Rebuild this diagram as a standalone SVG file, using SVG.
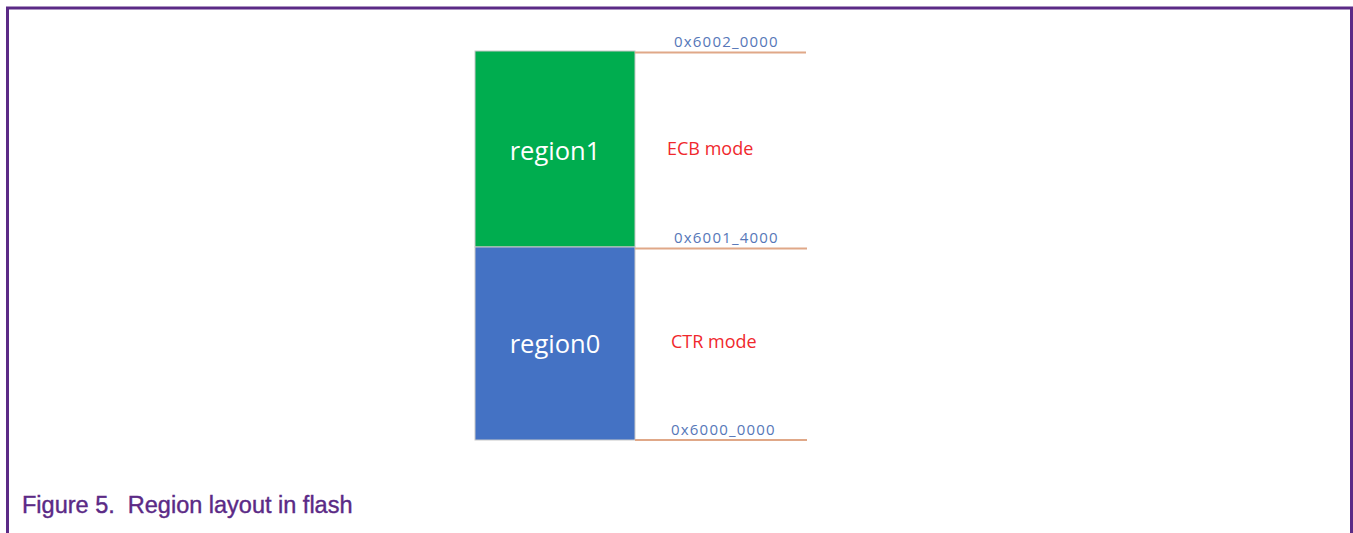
<svg xmlns="http://www.w3.org/2000/svg" width="1353" height="533" viewBox="0 0 1353 533">
<style>
.addr{font-family:"Open Sans","Noto Sans",sans-serif;font-size:15px;fill:#5677b8;letter-spacing:1.2px}
.mode{font-family:"Open Sans","Noto Sans",sans-serif;font-size:18px;fill:#f0282d}
.reg{font-family:"Open Sans","Noto Sans",sans-serif;font-size:25.5px;fill:#ffffff;text-anchor:middle}
.ln{stroke:#e0a888;stroke-width:2;fill:none}
</style>
<rect x="0" y="0" width="1353" height="533" fill="#ffffff"/>
<path d="M7.5 533 V8 H1351.5 V533" fill="none" stroke="#5b2a86" stroke-width="3"/>
<g id="region1">
<rect x="475" y="51" width="160" height="196" fill="#00ad4f" stroke="#c8c8c8" stroke-width="1"/>
<text class="reg" x="555" y="160">region1</text>
</g>
<g id="region0">
<rect x="475" y="247" width="160" height="193" fill="#4472c4" stroke="#c8c8c8" stroke-width="1"/>
<text class="reg" x="555" y="353">region0</text>
</g>
<g id="connectors">
<line class="ln" x1="635" y1="52.5" x2="806" y2="52.5"/>
<line class="ln" x1="635" y1="248.5" x2="807" y2="248.5"/>
<line class="ln" x1="635" y1="440" x2="807" y2="440"/>
</g>
<g id="labels">
<text class="addr" x="674" y="47">0x6002_0000</text>
<text class="addr" x="674" y="243">0x6001_4000</text>
<text class="addr" x="671" y="435">0x6000_0000</text>
<text class="mode" x="667" y="155">ECB mode</text>
<text class="mode" x="671" y="348">CTR mode</text>
</g>
<text x="22" y="513" xml:space="preserve" font-family="Liberation Sans, Arial, sans-serif" font-size="23.5" fill="#5b2a86" stroke="#5b2a86" stroke-width="0.4">Figure 5.  Region layout in flash</text>
</svg>
